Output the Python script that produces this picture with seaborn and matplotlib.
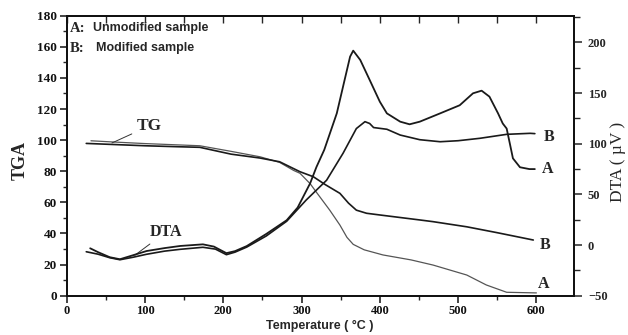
import matplotlib
matplotlib.use("Agg")
import matplotlib.pyplot as plt
import seaborn as sns
import pandas as pd
from matplotlib.ticker import MultipleLocator

# ---------------- data ----------------
tg_a_temp = [31, 60, 100, 140, 170, 210, 247, 272, 290, 298, 311, 319, 336, 349,
             358, 366, 380, 404, 440, 468, 511, 536, 562, 600]
tg_a_val = [99.6, 98.8, 97.8, 97.0, 96.4, 92.8, 89.3, 85.7, 80.5, 78.7, 72.0, 66.5,
            55.0, 45.4, 37.5, 33.0, 29.5, 26.2, 23.0, 19.7, 13.3, 6.9, 2.2, 1.8]

tg_b_temp = [25, 60, 100, 140, 170, 210, 247, 272, 298, 315, 330, 349, 360, 370,
             383, 400, 451, 468, 511, 550, 596]
tg_b_val = [97.9, 97.2, 96.4, 95.8, 95.4, 91.0, 88.5, 86.1, 79.7, 76.5, 71.5, 65.8,
            59.5, 55.0, 53.0, 51.9, 48.7, 47.6, 44.3, 40.5, 35.8]

dta_a_temp = [30, 40, 55, 68, 85, 102, 125, 145, 174, 188, 204, 215, 230, 255, 281,
              295, 311, 319, 329, 345, 355, 362, 366, 375, 387, 400, 409, 426, 438,
              451, 477, 502, 519, 530, 540, 551, 557, 562, 566, 570, 579, 591, 598]
dta_a_val = [-3.2, -7.0, -12.0, -14.0, -10.0, -5.9, -3.0, -0.9, 0.7, -1.5, -8.0,
             -6.0, -1.0, 11.0, 24.5, 37.0, 61.0, 77.0, 94.0, 130.0, 163.0, 186.0,
             191.9, 182.7, 163.0, 141.5, 130.0, 121.8, 119.2, 121.8, 130.0, 138.0,
             149.8, 152.4, 146.5, 130.0, 120.0, 115.0, 100.4, 85.6, 76.8, 75.0, 75.0]

dta_b_temp = [25, 40, 55, 68, 85, 102, 125, 145, 174, 190, 204, 215, 230, 255, 281,
              306, 332, 353, 370, 381, 387, 392, 409, 426, 451, 477, 500, 528, 562,
              592, 598]
dta_b_val = [-6.6, -9.0, -12.5, -14.5, -12.0, -9.1, -6.0, -4.2, -2.2, -4.0, -9.5,
             -7.0, -2.0, 9.0, 23.5, 44.5, 64.0, 90.6, 115.0, 121.8, 120.0, 116.0,
             114.3, 108.6, 104.0, 102.0, 103.0, 105.4, 109.3, 110.3, 110.0]

x_ticks = [0, 100, 200, 300, 400, 500, 600]
tga_ticks = [0, 20, 40, 60, 80, 100, 120, 140, 160, 180]
dta_ticks = [-50, 0, 50, 100, 150, 200]

# ---------------- style ----------------
sns.set_theme(style="ticks")
plt.rcParams['font.family'] = ['Liberation Serif', 'DejaVu Serif']
plt.rcParams['axes.linewidth'] = 1.3

fig = plt.figure(figsize=(6.28, 3.35), dpi=100)
ax = fig.add_axes([0.1062, 0.1173, 0.8078, 0.8358])
ax2 = ax.twinx()

tg_a = pd.DataFrame({"T": tg_a_temp, "v": tg_a_val})
tg_b = pd.DataFrame({"T": tg_b_temp, "v": tg_b_val})
dta_a = pd.DataFrame({"T": dta_a_temp, "v": dta_a_val})
dta_b = pd.DataFrame({"T": dta_b_temp, "v": dta_b_val})

sns.lineplot(data=tg_a, x="T", y="v", ax=ax, color="#555555", lw=0.9, sort=False)
sns.lineplot(data=tg_b, x="T", y="v", ax=ax, color="#1a1a1a", lw=1.2, sort=False)
sns.lineplot(data=dta_a, x="T", y="v", ax=ax2, color="#1a1a1a", lw=1.3, sort=False)
sns.lineplot(data=dta_b, x="T", y="v", ax=ax2, color="#1a1a1a", lw=1.2, sort=False)

ax.set_xlim(0, 648)
ax.set_ylim(0, 180)
ax2.set_ylim(-50, 226.4)
ax.set_xlabel("")
ax.set_ylabel("")
ax2.set_ylabel("")

left_font = dict(family="Liberation Serif", weight="bold", size=9.5)
tick_font = dict(family="Liberation Serif", weight="bold", size=9)

ax.set_xticks(x_ticks)
ax.xaxis.set_minor_locator(MultipleLocator(50))
ax.set_yticks(tga_ticks)
ax.yaxis.set_minor_locator(MultipleLocator(10))
ax.tick_params(axis="both", which="major", direction="out", length=5, width=1.1,
               pad=2, colors="#111111")
ax.tick_params(axis="both", which="minor", direction="out", length=3, width=1.0)
ax.tick_params(axis="y", right=False)
for lab in ax.get_xticklabels():
    lab.set_fontproperties(tick_font)
for lab in ax.get_yticklabels():
    lab.set_fontproperties(left_font)

ax2.set_yticks(dta_ticks)
ax2.yaxis.set_minor_locator(MultipleLocator(25))
ax2.tick_params(axis="y", which="major", direction="out", length=6, width=1.1, pad=4)
ax2.tick_params(axis="y", which="minor", direction="out", length=4, width=1.0)
for lab in ax2.get_yticklabels():
    lab.set_fontproperties(tick_font)

top = ax.secondary_xaxis("top")
top.set_xticks(list(range(0, 601, 50)))
top.set_xticklabels([])
top.tick_params(direction="in", length=5, width=1.0)

for a in (ax, ax2):
    for s in a.spines.values():
        s.set_linewidth(1.3)
        s.set_color("#111111")

# ---------------- texts ----------------
serif_b = dict(family="Liberation Serif", weight="bold")
sans_b = dict(family="Liberation Sans", weight="bold")

ax.text(4, 172.1, "A:", fontsize=10.5, va="center", ha="left", **serif_b)
ax.text(33.6, 172.1, "Unmodified sample", fontsize=9, va="center", ha="left", **sans_b)
ax.text(4, 159.2, "B:", fontsize=10.5, va="center", ha="left", **serif_b)
ax.text(37.4, 159.2, "Modified sample", fontsize=9, va="center", ha="left", **sans_b)

ax.annotate("TG", xy=(57.8, 98.2), xytext=(105, 109), fontsize=12.5, ha="center",
            va="center", arrowprops=dict(arrowstyle="-", lw=0.7, color="#333333",
                                         shrinkA=1, shrinkB=0), **serif_b)
ax.annotate("DTA", xy=(87, 26), xytext=(127, 41), fontsize=11.5, ha="center",
            va="center", arrowprops=dict(arrowstyle="-", lw=0.7, color="#333333",
                                         shrinkA=1, shrinkB=0), **serif_b)

for txt, tx, ty in [("B", 615.7, 102), ("A", 614.5, 81.4), ("B", 610.7, 32.6), ("A", 609.5, 7.5)]:
    ax.text(tx, ty, txt, fontsize=11.5, ha="center", va="center", **serif_b)

fig.text(320 / 628, 1 - 326 / 335, "Temperature ( °C )", fontsize=9, ha="center",
         va="center", **sans_b)
fig.text(20 / 628, 1 - 161 / 335, "TGA", fontsize=13, rotation=90, ha="center",
         va="center", **serif_b)
fig.text(618 / 628, 1 - 162 / 335, "DTA ( µV )", fontsize=12.5, rotation=90,
         ha="center", va="center", family="Liberation Serif")

fig.savefig("out.png", dpi=100)
